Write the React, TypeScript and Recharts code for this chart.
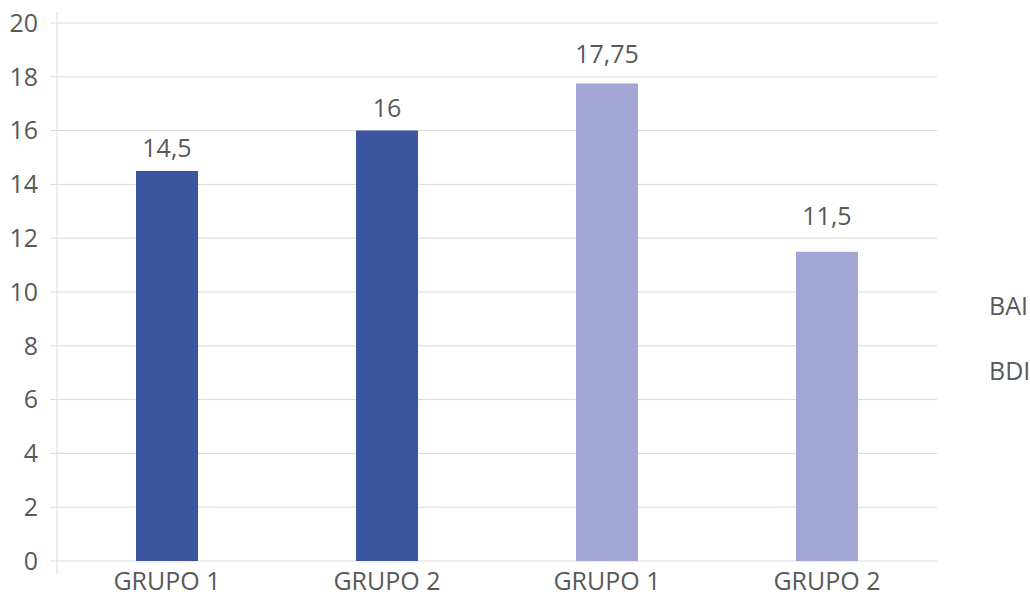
import { Bar, BarChart, CartesianGrid, Customized, LabelList, XAxis, YAxis, usePlotArea } from "recharts";

const categories = ["GRUPO 1", "GRUPO 2", "GRUPO 1", "GRUPO 2"];
const bai = [14.5, 16, null, null];
const bdi = [null, null, 17.75, 11.5];
const yTicks = [0, 2, 4, 6, 8, 10, 12, 14, 16, 18, 20];
const seriesNames = ["BAI", "BDI"];

// gap (px) between each data label and its bar, as placed in the original
const labelGaps = [14, 14, 21, 27];

const data = categories.map((name, i) => ({ name, BAI: bai[i], BDI: bdi[i] }));

const textColor = "#595959";
const gridColor = "#d9d9d9";
const font = "'Open Sans', sans-serif";
const fs = 25;

const fmt = (v: any) => (v == null ? "" : String(v).replace(".", ","));

function ValueLabel(props: any) {
  const { x, y, width, value } = props;
  if (value == null || value === "") return null;
  // the label props carry no index here, so find the category by its value
  const idx = data.findIndex((d) => d.BAI === value || d.BDI === value);
  const gap = labelGaps[idx] ?? 14;
  return (
    <text x={Number(x) + Number(width) / 2} y={Number(y) - gap} textAnchor="middle" fill={textColor} fontSize={fs} fontFamily={font}>
      {fmt(value)}
    </text>
  );
}

// Excel-style value axis line, a bit longer than the plot area
function AxisLine() {
  const plot = usePlotArea();
  if (!plot) return null;
  return (
    <line x1={plot.x} x2={plot.x} y1={plot.y - 11} y2={plot.y + plot.height + 14} stroke={gridColor} strokeWidth={1} />
  );
}

export default function App() {
  return (
    <div style={{ position: "absolute", left: 0, top: 0, width: 1030, height: 596, background: "#fff", fontFamily: font }}>
      <BarChart width={1030} height={596} data={data} margin={{ top: 23, right: 93, bottom: 0, left: 0 }} style={{ fontFamily: font }}>
        <CartesianGrid stroke={gridColor} vertical={false} />
        <XAxis
          dataKey="name"
          axisLine={false}
          tickLine={false}
          tickSize={0}
          tickMargin={11}
          height={35}
          interval={0}
          fontSize={fs}
          fontFamily={font}
          tick={{ fill: textColor, fontSize: fs }}
        />
        <YAxis
          domain={[0, 20]}
          ticks={yTicks}
          width={57}
          axisLine={false}
          tickSize={7}
          tickLine={{ stroke: gridColor }}
          tickMargin={12}
          fontSize={fs}
          fontFamily={font}
          tick={{ fill: textColor, fontSize: fs }}
        />
        <Customized component={AxisLine} />
        <Bar dataKey="BAI" stackId="a" fill="#3b55a0" barSize={62} isAnimationActive={false}>
          <LabelList dataKey="BAI" content={ValueLabel} />
        </Bar>
        <Bar dataKey="BDI" stackId="a" fill="#a1a6d5" barSize={62} isAnimationActive={false}>
          <LabelList dataKey="BDI" content={ValueLabel} />
        </Bar>
      </BarChart>
      {seriesNames.map((n, i) => (
        <div
          key={n}
          style={{ position: "absolute", left: 989, top: 288 + i * 65, fontSize: fs, lineHeight: "34px", color: textColor }}
        >
          {n}
        </div>
      ))}
    </div>
  );
}
